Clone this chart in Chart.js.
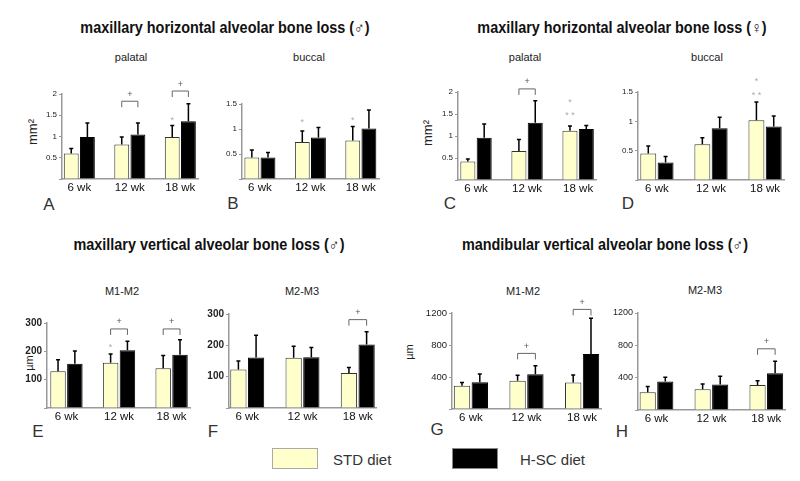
<!DOCTYPE html>
<html lang="en">
<head>
<meta charset="UTF-8" />
<title>Alveolar bone loss - STD vs H-SC diet</title>
<script src="https://cdn.jsdelivr.net/npm/chart.js"></script>
<style>
  body { margin: 0; background: #fff; font-family: "Liberation Sans", Arial, sans-serif; color: #222; }
  #wrap { position: relative; width: 800px; height: 481px; overflow: hidden; }
  canvas { position: absolute; }
  .t { position: absolute; transform: translate(-50%, -50%); white-space: nowrap; }
  .title { font-weight: bold; font-size: 16px; color: #111; transform: translate(-50%, -50%) scaleX(0.9); }
  .sub { font-size: 11px; }
  .letter { font-size: 17px; color: #333; }
  .ylab { transform: translate(-50%, -50%) rotate(-90deg); }
  .leg { position: absolute; transform: translateY(-50%); font-size: 15px; color: #333; }
  .box { position: absolute; width: 46px; height: 21px; box-sizing: border-box; }
</style>
</head>
<body>
<div id="wrap">
  <div class="t title" style="left:225px; top:28px">maxillary horizontal alveolar bone loss (♂)</div>
  <div class="t title" style="left:622px; top:28px">maxillary horizontal alveolar bone loss (♀)</div>
  <div class="t title" style="left:209px; top:245px">maxillary vertical alveolar bone loss (♂)</div>
  <div class="t title" style="left:605px; top:245px">mandibular vertical alveolar bone loss (♂)</div>

  <div class="t sub" style="left:131px; top:57px">palatal</div>
  <div class="t sub" style="left:309px; top:57px">buccal</div>
  <div class="t sub" style="left:525px; top:57px">palatal</div>
  <div class="t sub" style="left:707px; top:57px">buccal</div>
  <div class="t sub" style="left:122px; top:291px">M1-M2</div>
  <div class="t sub" style="left:302px; top:291px">M2-M3</div>
  <div class="t sub" style="left:523px; top:291px">M1-M2</div>
  <div class="t sub" style="left:705px; top:290px">M2-M3</div>

  <div class="t ylab" style="left:32px; top:132px; font-size:13px">mm²</div>
  <div class="t ylab" style="left:427px; top:133px; font-size:13px">mm²</div>
  <div class="t ylab" style="left:29px; top:363px; font-size:11px">µm</div>
  <div class="t ylab" style="left:409px; top:352px; font-size:11px">µm</div>

  <div class="t letter" style="left:49px; top:205px">A</div>
  <div class="t letter" style="left:233px; top:204px">B</div>
  <div class="t letter" style="left:450px; top:204px">C</div>
  <div class="t letter" style="left:628px; top:204px">D</div>
  <div class="t letter" style="left:38px; top:432px">E</div>
  <div class="t letter" style="left:213px; top:432px">F</div>
  <div class="t letter" style="left:437px; top:430px">G</div>
  <div class="t letter" style="left:622px; top:432px">H</div>

  <div class="box" style="left:272px; top:448px; background:#ffffcc; border:1px solid #aaa"></div>
  <div class="leg" style="left:333px; top:459px">STD diet</div>
  <div class="box" style="left:452px; top:448px; background:#000; border:1px solid #888"></div>
  <div class="leg" style="left:520px; top:459px">H-SC diet</div>
</div>

<script>
  const weeks = ['6 wk', '12 wk', '18 wk'];

  // A - maxillary horizontal, male, palatal (mm2)
  const aStd = [0.60, 0.81, 0.99];
  const aStdErr = [0.72, 0.99, 1.26];
  const aHsc = [0.99, 1.05, 1.36];
  const aHscErr = [1.32, 1.32, 1.77];
  const aBrackets = [[1, 1.83], [2, 2.07]];
  const aStars = [[2, 1.42, '*']];

  // B - maxillary horizontal, male, buccal
  const bStd = [0.43, 0.74, 0.77];
  const bStdErr = [0.58, 0.96, 1.05];
  const bHsc = [0.43, 0.83, 1.01];
  const bHscErr = [0.53, 1.03, 1.38];
  const bBrackets = [];
  const bStars = [[1, 1.17, '*'], [2, 1.21, '*']];

  // C - maxillary horizontal, female, palatal
  const cStd = [0.42, 0.66, 1.12];
  const cStdErr = [0.48, 0.92, 1.23];
  const cHsc = [0.96, 1.30, 1.16];
  const cHscErr = [1.27, 1.80, 1.24];
  const cBrackets = [[1, 2.07]];
  const cStars = [[2, 1.80, '*'], [2, 1.50, '* *']];

  // D - maxillary horizontal, female, buccal
  const dStd = [0.45, 0.61, 1.02];
  const dStdErr = [0.58, 0.72, 1.33];
  const dHsc = [0.30, 0.88, 0.91];
  const dHscErr = [0.40, 1.07, 1.09];
  const dBrackets = [];
  const dStars = [[2, 1.72, '*'], [2, 1.48, '* *']];

  // E - maxillary vertical, M1-M2 (um)
  const eStd = [130, 160, 140];
  const eStdErr = [170, 191, 185];
  const eHsc = [156, 204, 188];
  const eHscErr = [201, 236, 241];
  const eBrackets = [[1, 279], [2, 279]];
  const eStars = [[1, 220, '*']];

  // F - maxillary vertical, M2-M3
  const fStd = [123, 160, 112];
  const fStdErr = [150, 197, 129];
  const fHsc = [161, 162, 203];
  const fHscErr = [232, 193, 243];
  const fBrackets = [[2, 282]];
  const fStars = [];

  // G - mandibular vertical, M1-M2
  const gStd = [290, 352, 330];
  const gStdErr = [331, 422, 425];
  const gHsc = [335, 434, 686];
  const gHscErr = [439, 542, 1133];
  const gBrackets = [[1, 695], [2, 1245]];
  const gStars = [];

  // H - mandibular vertical, M2-M3
  const hStd = [221, 258, 308];
  const hStdErr = [292, 321, 363];
  const hHsc = [354, 317, 454];
  const hHscErr = [404, 417, 604];
  const hBrackets = [[2, 757]];
  const hStars = [];

  // error bars, significance brackets and stars
  const marks = {
    id: 'marks',
    afterDatasetsDraw(chart, args, o) {
      const ctx = chart.ctx, y = chart.scales.y;
      const m0 = chart.getDatasetMeta(0).data, m1 = chart.getDatasetMeta(1).data;
      ctx.save();
      [[m0, o.stdErr], [m1, o.hscErr]].forEach(([bars, err]) => {
        bars.forEach((b, i) => {
          const top = y.getPixelForValue(err[i]);
          ctx.strokeStyle = '#000';
          ctx.lineWidth = 1.5;
          ctx.beginPath();
          ctx.moveTo(b.x, b.y);
          ctx.lineTo(b.x, top);
          ctx.moveTo(b.x - 2, top);
          ctx.lineTo(b.x + 2, top);
          ctx.stroke();
        });
      });
      ctx.textAlign = 'center';
      ctx.textBaseline = 'middle';
      o.brackets.forEach(([i, v]) => {
        const x0 = m0[i].x, x1 = m1[i].x, yb = y.getPixelForValue(v);
        ctx.strokeStyle = '#666';
        ctx.lineWidth = 1;
        ctx.beginPath();
        ctx.moveTo(x0, yb + 6);
        ctx.lineTo(x0, yb);
        ctx.lineTo(x1, yb);
        ctx.lineTo(x1, yb + 6);
        ctx.stroke();
        ctx.fillStyle = '#555';
        ctx.font = '9px "Liberation Sans", Arial';
        ctx.fillText('+', (x0 + x1) / 2, yb - 7);
      });
      o.stars.forEach(([i, v, s]) => {
        ctx.fillStyle = '#aaa';
        ctx.font = '9px "Liberation Sans", Arial';
        ctx.fillText(s, m0[i].x, y.getPixelForValue(v) + 2);
      });
      ctx.restore();
    }
  };

  const panels = [
    { std: aStd, stdErr: aStdErr, hsc: aHsc, hscErr: aHscErr, br: aBrackets, st: aStars, max: 2, step: 0.5,
      ax: 62, right: 198, top: 94, base: 179, xmin: -0.343, xmax: 2.35, tick: { size: 8 } },
    { std: bStd, stdErr: bStdErr, hsc: bHsc, hscErr: bHscErr, br: bBrackets, st: bStars, max: 1.5, step: 0.5,
      ax: 242, right: 379, top: 104, base: 179, xmin: -0.355, xmax: 2.36, tick: { size: 8 } },
    { std: cStd, stdErr: cStdErr, hsc: cHsc, hscErr: cHscErr, br: cBrackets, st: cStars, max: 2, step: 0.5,
      ax: 458, right: 596, top: 92, base: 180, xmin: -0.353, xmax: 2.35, tick: { size: 8 } },
    { std: dStd, stdErr: dStdErr, hsc: dHsc, hscErr: dHscErr, br: dBrackets, st: dStars, max: 1.5, step: 0.5,
      ax: 638, right: 784, top: 92, base: 180, xmin: -0.35, xmax: 2.35, tick: { size: 8 } },
    { std: eStd, stdErr: eStdErr, hsc: eHsc, hscErr: eHscErr, br: eBrackets, st: eStars, max: 300, step: 100,
      ax: 47, right: 190, top: 323, base: 408, xmin: -0.37, xmax: 2.35, tick: { size: 10, weight: 'bold' } },
    { std: fStd, stdErr: fStdErr, hsc: fHsc, hscErr: fHscErr, br: fBrackets, st: fStars, max: 300, step: 100,
      ax: 229, right: 376, top: 314, base: 408, xmin: -0.33, xmax: 2.33, tick: { size: 10, weight: 'bold' } },
    { std: gStd, stdErr: gStdErr, hsc: gHsc, hscErr: gHscErr, br: gBrackets, st: gStars, max: 1200, step: 400,
      ax: 452, right: 601, top: 313, base: 409, xmin: -0.34, xmax: 2.34, tick: { size: 9.5 } },
    { std: hStd, stdErr: hStdErr, hsc: hHsc, hscErr: hHscErr, br: hBrackets, st: hStars, max: 1200, step: 400,
      ax: 638, right: 785, top: 313, base: 410, xmin: -0.337, xmax: 2.34, tick: { size: 9 } }
  ];

  const padTop = 40, yW = 45, xH = 22, padR = 4;
  const wrap = document.getElementById('wrap');

  panels.forEach(p => {
    const c = document.createElement('canvas');
    c.width = p.right - p.ax + yW + padR;
    c.height = p.base - p.top + padTop + xH;
    c.style.left = (p.ax - yW) + 'px';
    c.style.top = (p.top - padTop) + 'px';
    wrap.appendChild(c);

    new Chart(c, {
      type: 'bar',
      data: {
        datasets: [
          { label: 'STD diet', data: p.std.map((v, i) => ({ x: i, y: v })),
            backgroundColor: '#ffffcc', borderColor: '#333', borderWidth: 1 },
          { label: 'H-SC diet', data: p.hsc.map((v, i) => ({ x: i, y: v })),
            backgroundColor: '#000', borderColor: '#000', borderWidth: 1 }
        ]
      },
      options: {
        responsive: false,
        animation: false,
        layout: { padding: { top: padTop, right: padR, left: 0, bottom: 0 } },
        categoryPercentage: 0.64,
        barPercentage: 0.92,
        plugins: {
          legend: { display: false },
          tooltip: { enabled: false },
          marks: { stdErr: p.stdErr, hscErr: p.hscErr, brackets: p.br, stars: p.st }
        },
        scales: {
          x: {
            type: 'linear', min: p.xmin, max: p.xmax, offset: false,
            grid: { display: false, drawTicks: false, offset: false },
            border: { display: true, color: '#999', width: 1.5 },
            afterBuildTicks: s => { s.ticks = weeks.map((w, i) => ({ value: i })); },
            afterFit: s => { s.height = xH; },
            ticks: {
              padding: 2, maxRotation: 0, autoSkip: false, color: '#111',
              font: { family: '"Liberation Sans", Arial', size: 11.5 },
              callback: v => weeks[v]
            }
          },
          y: {
            min: 0, max: p.max,
            grid: { display: true, drawOnChartArea: false, drawTicks: true, tickLength: 3, color: '#999' },
            border: { display: true, color: '#999', width: 1.5 },
            afterFit: s => { s.width = yW; },
            ticks: {
              stepSize: p.step, padding: 2, color: '#222',
              font: Object.assign({ family: '"Liberation Sans", Arial' }, p.tick),
              callback: v => v === 0 ? '' : String(v)
            }
          }
        }
      },
      plugins: [marks]
    });
  });
</script>
</body>
</html>
